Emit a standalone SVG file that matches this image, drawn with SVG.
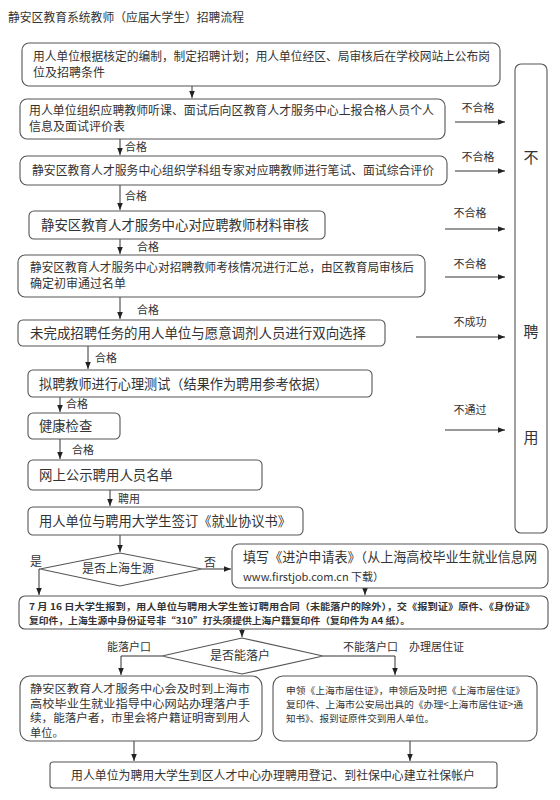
<svg xmlns="http://www.w3.org/2000/svg" width="560" height="800" viewBox="0 0 560 800">
<style>
.box{fill:#fff;stroke:#555;stroke-width:1.1}
.ln{stroke:#333;stroke-width:1;fill:none}
.ar{stroke:#333;stroke-width:1;fill:none;marker-end:url(#ah)}
text{font-family:"Noto Sans CJK SC","Liberation Sans",sans-serif;fill:#333}
.t12{font-size:12px}
.t115{font-size:11.2px}
.t13{font-size:13.3px}
.lb{font-size:11px}
.sm{font-size:9px;font-weight:bold}
.s9{font-size:9.5px}
</style>
<defs>
<marker id="ah" viewBox="0 0 10 10" refX="10" refY="5" markerWidth="7" markerHeight="7" markerUnits="userSpaceOnUse" orient="auto"><path d="M0,1 L10,5 L0,9 z" fill="#222"/></marker>
</defs>
<rect width="560" height="800" fill="#fff"/>
<text x="8" y="22" class="t12" textLength="236" lengthAdjust="spacingAndGlyphs">静安区教育系统教师（应届大学生）招聘流程</text>

<g id="connectors">
<line class="ar" x1="192" y1="86" x2="192" y2="98"/>
<line class="ar" x1="120" y1="139" x2="120" y2="155"/>
<line class="ar" x1="120" y1="185" x2="120" y2="210"/>
<line class="ar" x1="120" y1="239" x2="120" y2="254"/>
<line class="ar" x1="120" y1="297" x2="120" y2="319"/>
<line class="ar" x1="88" y1="346" x2="88" y2="369"/>
<line class="ar" x1="60" y1="397" x2="60" y2="412"/>
<line class="ar" x1="60" y1="439" x2="60" y2="459"/>
<line class="ar" x1="110" y1="490" x2="110" y2="506"/>
<line class="ar" x1="455" y1="122" x2="505" y2="122"/>
<line class="ar" x1="455" y1="171" x2="505" y2="171"/>
<line class="ar" x1="445" y1="229" x2="505" y2="229"/>
<line class="ar" x1="445" y1="277" x2="505" y2="277"/>
<line class="ar" x1="416" y1="337" x2="505" y2="337"/>
<line class="ar" x1="445" y1="430" x2="505" y2="430"/>
<line class="ar" x1="120" y1="535" x2="120" y2="552"/>
<line class="ar" x1="202" y1="569" x2="231" y2="569"/>
<polyline class="ar" points="40,569 39,569 39,595"/>
<line class="ar" x1="365" y1="588" x2="365" y2="595"/>
<line class="ar" x1="242" y1="629" x2="242" y2="637"/>
<polyline class="ar" points="162,656 121,656 121,675"/>
<polyline class="ar" points="323,656 395,656 395,675"/>
<line class="ar" x1="134" y1="741" x2="134" y2="761"/>
<line class="ar" x1="410" y1="741" x2="410" y2="761"/>
<text x="125" y="151" class="lb">合格</text>
<text x="125" y="200" class="lb">合格</text>
<text x="137" y="251" class="lb">合格</text>
<text x="137" y="314" class="lb">合格</text>
<text x="95" y="362" class="lb">合格</text>
<text x="66" y="408" class="lb">合格</text>
<text x="72" y="454" class="lb">合格</text>
<text x="118" y="503" class="lb">聘用</text>
<text x="478" y="112" class="lb" text-anchor="middle">不合格</text>
<text x="478" y="161" class="lb" text-anchor="middle">不合格</text>
<text x="470" y="217" class="lb" text-anchor="middle">不合格</text>
<text x="470" y="268" class="lb" text-anchor="middle">不合格</text>
<text x="470" y="326" class="lb" text-anchor="middle">不成功</text>
<text x="470" y="414" class="lb" text-anchor="middle">不通过</text>
<text x="30" y="566" class="t12">是</text>
<text x="204" y="567" class="t12">否</text>
<text x="107" y="651" class="lb">能落户口</text>
<text x="343" y="651" class="lb">不能落户口　办理居住证</text>
</g>

<g id="n1"><rect class="box" x="22" y="43" width="478" height="43" rx="7"/>
<text class="t12"><tspan x="33" y="61" textLength="457" lengthAdjust="spacingAndGlyphs">用人单位根据核定的编制，制定招聘计划；用人单位经区、局审核后在学校网站上公布岗</tspan><tspan x="33" y="77">位及招聘条件</tspan></text></g>

<g id="n2"><rect class="box" x="20" y="99" width="425" height="40" rx="7"/>
<text class="t12"><tspan x="29" y="115" textLength="405" lengthAdjust="spacingAndGlyphs">用人单位组织应聘教师听课、面试后向区教育人才服务中心上报合格人员个人</tspan><tspan x="29" y="131">信息及面试评价表</tspan></text></g>

<g id="n3"><rect class="box" x="20" y="156" width="427" height="29" rx="7"/>
<text x="32" y="175" class="t12" textLength="402" lengthAdjust="spacingAndGlyphs">静安区教育人才服务中心组织学科组专家对应聘教师进行笔试、面试综合评价</text></g>

<g id="n4"><rect class="box" x="29" y="211" width="296" height="28" rx="5"/>
<text x="41" y="230" class="t13" textLength="268" lengthAdjust="spacingAndGlyphs">静安区教育人才服务中心对应聘教师材料审核</text></g>

<g id="n5"><rect class="box" x="18" y="255" width="407" height="42" rx="7"/>
<text class="t12"><tspan x="30" y="272" textLength="384" lengthAdjust="spacingAndGlyphs">静安区教育人才服务中心对招聘教师考核情况进行汇总，由区教育局审核后</tspan><tspan x="30" y="288">确定初审通过名单</tspan></text></g>

<g id="n6"><rect class="box" x="18" y="320" width="367" height="26" rx="5"/>
<text x="30" y="338" class="t13" textLength="336" lengthAdjust="spacingAndGlyphs">未完成招聘任务的用人单位与愿意调剂人员进行双向选择</text></g>

<g id="n7"><rect class="box" x="28" y="370" width="344" height="27" rx="5"/>
<text x="39" y="389" class="t13" textLength="289" lengthAdjust="spacingAndGlyphs">拟聘教师进行心理测试（结果作为聘用参考依据）</text></g>

<g id="n8"><rect class="box" x="28" y="413" width="92" height="26" rx="5"/>
<text x="39" y="431" class="t13">健康检查</text></g>

<g id="n9"><rect class="box" x="28" y="460" width="234" height="30" rx="5"/>
<text x="39" y="480" class="t13" textLength="134" lengthAdjust="spacingAndGlyphs">网上公示聘用人员名单</text></g>

<g id="n10"><rect class="box" x="28" y="507" width="275" height="28" rx="5"/>
<text x="39" y="526" class="t13" textLength="252" lengthAdjust="spacingAndGlyphs">用人单位与聘用大学生签订《就业协议书》</text></g>

<g id="reject"><rect class="box" x="515" y="64" width="32" height="469" rx="6"/>
<text x="531" y="163" font-size="15" text-anchor="middle">不</text>
<text x="531" y="337" font-size="15" text-anchor="middle">聘</text>
<text x="531" y="443" font-size="15" text-anchor="middle">用</text></g>

<g id="d1"><polygon class="box" points="40,569 120,553 202,569 120,586"/>
<text x="118" y="573" class="t12" text-anchor="middle">是否上海生源</text></g>

<g id="n11"><rect class="box" x="232" y="544" width="316" height="44" rx="7"/>
<text><tspan x="243" y="562" class="t13" textLength="294" lengthAdjust="spacingAndGlyphs">填写《进沪申请表》（从上海高校毕业生就业信息网</tspan><tspan x="243" y="581" font-size="11">www.firstjob.com.cn 下载）</tspan></text></g>

<g id="n12"><rect class="box" x="19" y="596" width="529" height="33" rx="6"/>
<text class="sm"><tspan x="29" y="610" textLength="506" lengthAdjust="spacingAndGlyphs">7 月 16 日大学生报到，用人单位与聘用大学生签订聘用合同（未能落户的除外），交《报到证》原件、《身份证》</tspan><tspan x="29" y="624" textLength="381" lengthAdjust="spacingAndGlyphs">复印件，上海生源中身份证号非“310”打头须提供上海户籍复印件（复印件为 A4 纸）。</tspan></text></g>

<g id="d2"><polygon class="box" points="162,656 242,638 323,656 242,674"/>
<text x="240" y="660" class="t12" text-anchor="middle">是否能落户</text></g>

<g id="n13"><rect class="box" x="20" y="676" width="242" height="65" rx="10"/>
<text class="t115"><tspan x="30" y="693" textLength="220" lengthAdjust="spacingAndGlyphs">静安区教育人才服务中心会及时到上海市</tspan><tspan x="30" y="707.5" textLength="220" lengthAdjust="spacingAndGlyphs">高校毕业生就业指导中心网站办理落户手</tspan><tspan x="30" y="722" textLength="220" lengthAdjust="spacingAndGlyphs">续，能落户者，市里会将户籍证明寄到用人</tspan><tspan x="30" y="736.5">单位。</tspan></text></g>

<g id="n14"><rect class="box" x="273" y="676" width="264" height="65" rx="10"/>
<text class="s9"><tspan x="286" y="694" textLength="239" lengthAdjust="spacingAndGlyphs">申领《上海市居住证》，申领后及时把《上海市居住证》</tspan><tspan x="286" y="708" textLength="237" lengthAdjust="spacingAndGlyphs">复印件、上海市公安局出具的《办理&lt;上海市居住证&gt;通</tspan><tspan x="286" y="722" textLength="148" lengthAdjust="spacingAndGlyphs">知书》、报到证原件交到用人单位。</tspan></text></g>

<g id="n15"><rect class="box" x="50" y="762" width="447" height="26" rx="3"/>
<text x="273" y="780" class="t12" text-anchor="middle" textLength="404" lengthAdjust="spacingAndGlyphs">用人单位为聘用大学生到区人才中心办理聘用登记、到社保中心建立社保帐户</text></g>
</svg>
